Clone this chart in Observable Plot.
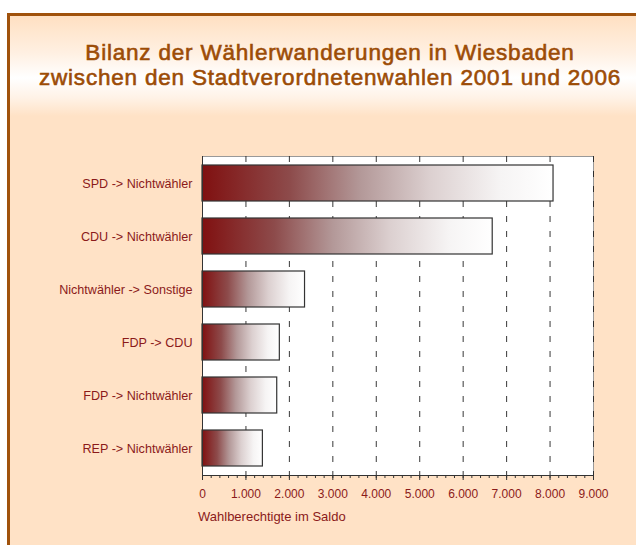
<!DOCTYPE html>
<html><head><meta charset="utf-8">
<script src="https://cdn.jsdelivr.net/npm/d3@7"></script>
<script src="https://cdn.jsdelivr.net/npm/@observablehq/plot@0.6"></script>
<style>
body{margin:0;width:636px;height:545px;overflow:hidden;position:relative;background:#fff;font-family:"Liberation Sans",Arial,sans-serif;}
#box{position:absolute;left:7px;top:13px;width:700px;height:600px;border:3px solid #a0520c;box-sizing:border-box;
background:linear-gradient(to bottom,#ffe0c2 0px,#fff0e2 37px,#ffffff 62px,#fff2e6 82px,#ffe2c6 100px,#ffe2c6 100%);}
#title{position:absolute;left:0;top:40px;width:660px;text-align:center;color:#9c4c06;font-size:22.5px;line-height:25px;letter-spacing:0.8px;-webkit-text-stroke:0.6px #9c4c06;}
#xlabel{position:absolute;left:198px;top:509px;color:#8b1a1a;font-size:13px;line-height:16px;}
#chart{position:absolute;left:0;top:0;}
</style></head>
<body>
<div id="box"></div>
<div id="title">Bilanz der Wählerwanderungen in Wiesbaden<br>zwischen den Stadtverordnetenwahlen 2001 und 2006</div>
<div id="chart"></div>
<div id="xlabel"></div>
<script>
const categories = ["SPD -> Nichtwähler", "CDU -> Nichtwähler", "Nichtwähler -> Sonstige", "FDP -> CDU", "FDP -> Nichtwähler", "REP -> Nichtwähler"];
const values = [8080, 6680, 2360, 1780, 1720, 1390];
const xTicks = [0, 1000, 2000, 3000, 4000, 5000, 6000, 7000, 8000, 9000];
const minorStep = 200;
const xLabel = "Wahlberechtigte im Saldo";

const data = categories.map((c, i) => ({cat: c, value: values[i]}));
const minorTicks = d3.range(0, 9000 + 1, minorStep);
const de = d3.formatLocale({decimal: ",", thousands: ".", grouping: [3], currency: ["", "€"]});
const fmt = de.format(",d");
const red = "#8b1a1a";

document.getElementById("xlabel").textContent = xLabel;

const chart = Plot.plot({
  width: 636, height: 545,
  marginLeft: 202, marginRight: 43, marginTop: 156, marginBottom: 70,
  style: {background: "transparent", fontFamily: "'Liberation Sans', Arial, sans-serif", fontSize: "12px", color: red},
  x: {domain: [0, 9000]},
  y: {domain: categories, paddingInner: 0.32, paddingOuter: 0.16},
  marks: [
    Plot.frame({fill: "white", stroke: "#999"}),
    Plot.gridX(xTicks.slice(1), {stroke: "#222", strokeOpacity: 0.9, strokeDasharray: "6,9"}),
    Plot.barX(data, {x: "value", y: "cat", fill: "url(#barGrad)", stroke: "#333", strokeWidth: 1.2}),
    Plot.ruleX([0], {stroke: "#333"}),
    Plot.frame({anchor: "bottom", stroke: "#333"}),
    Plot.axisX(minorTicks, {tickSize: 3, tickFormat: () => "", stroke: "#333", label: null}),
    Plot.axisX(xTicks, {tickSize: 5, tickPadding: 9, tickFormat: fmt, stroke: "#333", fill: red, label: null}),
    Plot.axisY({tickSize: 0, tickPadding: 10, label: null, fill: red, fontSize: "12.6px"})
  ]
});

const defs = d3.select(chart).insert("defs", ":first-child");
const g = defs.append("linearGradient").attr("id", "barGrad").attr("x1", 0).attr("x2", 1).attr("y1", 0).attr("y2", 0);
[[0, "#801010"], [0.25, "#8d4b4b"], [0.45, "#b39898"], [0.65, "#dcd0d0"], [0.85, "#f6f4f4"], [1, "#ffffff"]]
  .forEach(([o, c]) => g.append("stop").attr("offset", o).attr("stop-color", c));

document.getElementById("chart").appendChild(chart);
</script>
</body></html>
